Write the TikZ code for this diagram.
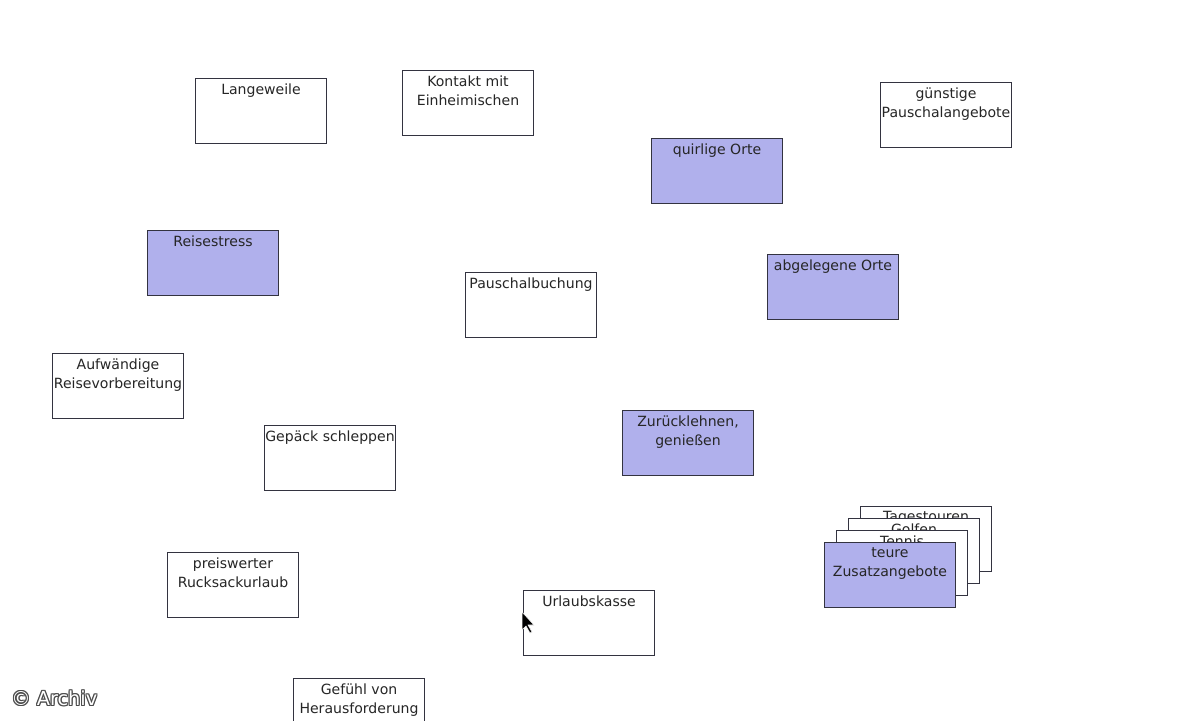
\documentclass[tikz,border=0pt]{standalone}
\usepackage{fontspec}
\setmainfont{DejaVu Sans}
\definecolor{lav}{HTML}{B0B0EC}
\definecolor{edge}{HTML}{333340}
\begin{document}
\begin{tikzpicture}[x=0.02cm,y=-0.02cm,
  card/.style={draw=edge,line width=0.6pt,fill=white,anchor=north west,minimum width=2.62cm,minimum height=1.3cm,inner sep=0pt},
  hi/.style={card,fill=lav},
  txt/.style={anchor=north,align=center,font=\fontsize{8}{11.2}\selectfont,inner sep=0pt,text=black!85},
  wm/.style={anchor=west,font=\fontsize{11}{12}\selectfont,inner sep=0pt}]
\useasboundingbox (0,0) rectangle (1200,720);
\newcommand{\cardat}[4]{\node[#1] (#2) at #3 {}; \node[txt] (#2t) at ([yshift=-0.1cm]#2.north) {#4};}
\cardat{card}{lw}{(195,78)}{Langeweile}
\cardat{card}{km}{(402,70)}{Kontakt mit\\Einheimischen}
\cardat{card}{gp}{(880,82)}{günstige\\Pauschalangebote}
\cardat{hi}{qo}{(651,138)}{quirlige Orte}
\cardat{hi}{rs}{(147,230)}{Reisestress}
\cardat{card}{pb}{(465,272)}{Pauschalbuchung}
\cardat{hi}{ao}{(767,254)}{abgelegene Orte}
\cardat{card}{ar}{(52,353)}{Aufwändige\\Reisevorbereitung}
\cardat{card}{gs}{(264,425)}{Gepäck schleppen}
\cardat{hi}{zg}{(622,410)}{Zurücklehnen,\\genießen}
\cardat{card}{pr}{(167,552)}{preiswerter\\Rucksackurlaub}
\cardat{card}{uk}{(523,590)}{Urlaubskasse}
\cardat{card}{gh}{(293,678)}{Gefühl von\\Herausforderung}
\cardat{card}{tt}{(860,506)}{Tagestouren}
\cardat{card}{go}{(848,518)}{Golfen}
\cardat{card}{te}{(836,530)}{Tennis}
\cardat{hi}{tz}{(824,542)}{teure\\Zusatzangebote}
\coordinate (cur) at (522,612);
\fill[black,draw=white,line width=0.3pt] (cur) -- ++(0,18) -- ++(4,-4) -- ++(4,7) -- ++(2,-1) -- ++(-4,-7) -- ++(6,0) -- cycle;
\foreach \dx/\dy in {-1/0,1/0,0/-1,0/1,-1/-1,1/1,-1/1,1/-1}
  \node[wm,text=black!70] at (11+\dx,698+\dy) {© Archiv};
\node[wm,text=white] (wmk) at (11,698) {© Archiv};
\end{tikzpicture}
\end{document}
